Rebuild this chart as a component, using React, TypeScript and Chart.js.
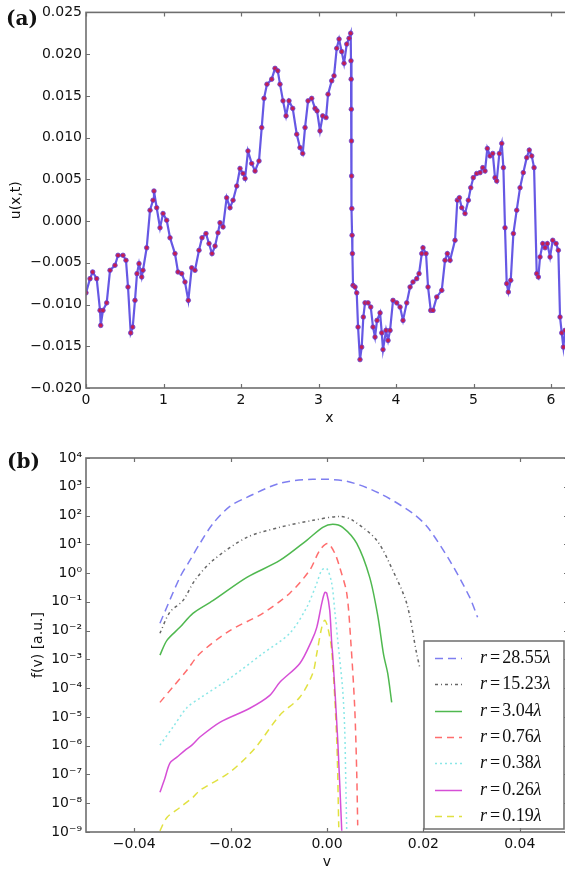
import React, { useEffect, useRef } from 'react';
import { Chart, registerables } from 'chart.js';

Chart.register(...registerables);

// ---------- Panel (a) data ----------
const xValues = [
  0.000, 0.052, 0.086, 0.138, 0.181, 0.190, 0.219, 0.267, 0.310, 0.374,
  0.413, 0.477, 0.516, 0.542, 0.577, 0.603, 0.632, 0.658, 0.684, 0.719,
  0.735, 0.783, 0.826, 0.865, 0.877, 0.912, 0.955, 0.994, 1.041, 1.084,
  1.148, 1.187, 1.235, 1.277, 1.320, 1.364, 1.406, 1.458, 1.497, 1.548,
  1.587, 1.626, 1.665, 1.703, 1.729, 1.768, 1.815, 1.858, 1.897, 1.945,
  1.987, 2.026, 2.052, 2.090, 2.138, 2.181, 2.232, 2.267, 2.297, 2.335,
  2.396, 2.439, 2.474, 2.503, 2.542, 2.581, 2.619, 2.667, 2.719, 2.761,
  2.796, 2.826, 2.865, 2.912, 2.955, 2.981, 3.019, 3.054, 3.097, 3.123,
  3.170, 3.200, 3.235, 3.265, 3.299, 3.329, 3.364, 3.394, 3.415, 3.419,
  3.421, 3.423, 3.425, 3.427, 3.430, 3.433, 3.437, 3.445, 3.471, 3.493,
  3.510, 3.535, 3.557, 3.578, 3.600, 3.639, 3.674, 3.703, 3.729, 3.755,
  3.794, 3.816, 3.832, 3.871, 3.897, 3.923, 3.961, 4.009, 4.052, 4.090,
  4.138, 4.181, 4.219, 4.267, 4.297, 4.332, 4.348, 4.387, 4.413, 4.448,
  4.477, 4.525, 4.590, 4.632, 4.662, 4.697, 4.761, 4.791, 4.817, 4.848,
  4.890, 4.933, 4.964, 4.997, 5.041, 5.084, 5.119, 5.148, 5.178, 5.213,
  5.248, 5.277, 5.299, 5.333, 5.364, 5.385, 5.406, 5.428, 5.449, 5.480,
  5.514, 5.557, 5.600, 5.642, 5.686, 5.719, 5.751, 5.781, 5.815, 5.836,
  5.858, 5.893, 5.923, 5.952, 5.987, 6.022, 6.065, 6.094, 6.116, 6.138,
  6.159, 6.181, 6.245,
];
const uValues = [
  -0.0086, -0.0069, -0.0061, -0.0069, -0.0107, -0.0125, -0.0107, -0.0098, -0.0059, -0.0053,
  -0.0041, -0.0041, -0.0047, -0.0079, -0.0134, -0.0127, -0.0095, -0.0063, -0.0051, -0.0067,
  -0.0059, -0.0032, 0.0013, 0.0025, 0.0036, 0.0016, -0.0008, 0.0009, 0.0001, -0.0020,
  -0.0039, -0.0061, -0.0063, -0.0073, -0.0095, -0.0056, -0.0059, -0.0035, -0.0020, -0.0015,
  -0.0027, -0.0039, -0.0030, -0.0014, -0.0002, -0.0007, 0.0028, 0.0016, 0.0025, 0.0042,
  0.0063, 0.0057, 0.0051, 0.0084, 0.0069, 0.0060, 0.0072, 0.0112, 0.0147, 0.0164,
  0.0170, 0.0183, 0.0180, 0.0164, 0.0144, 0.0126, 0.0144, 0.0135, 0.0104, 0.0088,
  0.0081, 0.0112, 0.0144, 0.0147, 0.0135, 0.0132, 0.0108, 0.0126, 0.0124, 0.0152,
  0.0168, 0.0174, 0.0207, 0.0218, 0.0203, 0.0189, 0.0212, 0.0219, 0.0225, 0.0192,
  0.0170, 0.0134, 0.0096, 0.0054, 0.0015, -0.0017, -0.0039, -0.0077, -0.0079, -0.0086,
  -0.0127, -0.0166, -0.0151, -0.0115, -0.0098, -0.0098, -0.0103, -0.0127, -0.0139, -0.0119,
  -0.0110, -0.0134, -0.0154, -0.0131, -0.0143, -0.0131, -0.0095, -0.0098, -0.0103, -0.0119,
  -0.0098, -0.0079, -0.0073, -0.0069, -0.0063, -0.0039, -0.0032, -0.0039, -0.0079, -0.0107,
  -0.0107, -0.0091, -0.0083, -0.0047, -0.0039, -0.0047, -0.0023, 0.0025, 0.0028, 0.0016,
  0.0009, 0.0025, 0.0040, 0.0052, 0.0057, 0.0058, 0.0064, 0.0060, 0.0087, 0.0078,
  0.0081, 0.0052, 0.0048, 0.0081, 0.0093, 0.0064, -0.0008, -0.0075, -0.0085, -0.0071,
  -0.0015, 0.0013, 0.0040, 0.0058, 0.0076, 0.0085, 0.0078, 0.0064, -0.0063, -0.0067,
  -0.0043, -0.0027, -0.0032, -0.0027, -0.0043, -0.0023, -0.0027, -0.0035, -0.0115, -0.0134,
  -0.0151, -0.0131, -0.0125,
];
const xTicksA = [0, 1, 2, 3, 4, 5, 6];
const xTickLabelsA = ['0', '1', '2', '3', '4', '5', '6'];
const uTicks = [-0.02, -0.015, -0.01, -0.005, 0, 0.005, 0.01, 0.015, 0.02, 0.025];
const uTickLabels = ['−0.020', '−0.015', '−0.010', '−0.005', '0.000', '0.005', '0.010', '0.015', '0.020', '0.025'];

// ---------- Panel (b) data ----------
const v_r2855 = [-0.03466, -0.03052, -0.02845, -0.02637, -0.02368, -0.02016, -0.01663, -0.00979, -0.00295, 0.00409, 0.01093, 0.01777, 0.02088, 0.02544, 0.02959, 0.03124];
const f_r2855 = [0.018, 0.71, 2.75, 10.7, 52, 209, 427, 1320, 1820, 1550, 589, 120, 39, 2.75, 0.145, 0.029];

const v_r1523 = [-0.03466, -0.03259, -0.02990, -0.02741, -0.02368, -0.01663, -0.00979, -0.00295, 0.00264, 0.00534, 0.01031, 0.01363, 0.01653, 0.01860, 0.01922];
const f_r1523 = [0.0081, 0.044, 0.11, 0.56, 2.75, 17.4, 39, 68, 93, 68, 13.8, 1.26, 0.089, 0.0016, 0.00054];

const v_r304 = [-0.03466, -0.03321, -0.03052, -0.02782, -0.02368, -0.01663, -0.00979, -0.00420, -0.00088, 0.00119, 0.00326, 0.00617, 0.00886, 0.01052, 0.01176, 0.01259, 0.01342];
const f_r304 = [0.0014, 0.0046, 0.013, 0.040, 0.11, 0.71, 2.75, 13.8, 39, 50, 39, 10.7, 0.71, 0.034, 0.0014, 0.00033, 3.2e-5];

const v_r076 = [-0.03466, -0.03197, -0.02907, -0.02637, -0.02016, -0.01332, -0.00772, -0.00358, -0.00150, 0.00016, 0.00161, 0.00264, 0.00409, 0.00492, 0.00575, 0.00617, 0.00637];
const f_r076 = [3.2e-5, 1.1e-4, 4.2e-4, 1.6e-3, 0.010, 0.040, 0.20, 1.26, 6.2, 10.7, 4.9, 1.58, 0.20, 0.0046, 2.1e-5, 1.1e-7, 1.7e-9];

const v_r038 = [-0.03466, -0.03197, -0.02907, -0.02637, -0.02016, -0.01332, -0.00772, -0.00420, -0.00212, -0.00109, -0.00005, 0.00098, 0.00161, 0.00223, 0.00326, 0.00368, 0.00389, 0.00409];
const f_r038 = [1.05e-6, 4.4e-6, 2.1e-5, 4.5e-5, 2.2e-4, 1.6e-3, 8.1e-3, 0.065, 0.44, 1.26, 1.45, 0.44, 0.050, 0.0046, 8.5e-5, 3.5e-6, 6.3e-8, 1.15e-9];

const v_r026 = [-0.03466, -0.03363, -0.03259, -0.03114, -0.02948, -0.02803, -0.02637, -0.02223, -0.01601, -0.01187, -0.00979, -0.00565, -0.00316, -0.00212, -0.00109, -0.00047, -0.00005, 0.00057, 0.00098, 0.00119, 0.00223, 0.00306];
const f_r026 = [2.4e-8, 7.4e-8, 2.5e-7, 4.0e-7, 6.9e-7, 1.05e-6, 2.0e-6, 6.5e-6, 2.0e-5, 5.6e-5, 1.6e-4, 7.2e-4, 4.6e-3, 0.013, 0.089, 0.21, 0.20, 0.050, 0.0036, 0.0014, 1.55e-6, 1.1e-9];

const v_r019 = [-0.03466, -0.03321, -0.03052, -0.02782, -0.02637, -0.02016, -0.01497, -0.00979, -0.00565, -0.00295, -0.00212, -0.00109, -0.00047, 0.00016, 0.00098, 0.00202, 0.00244];
const f_r019 = [1.1e-9, 3.2e-9, 7.1e-9, 1.6e-8, 2.8e-8, 1.2e-7, 8.1e-7, 1.15e-5, 4.8e-5, 3.3e-4, 1.6e-3, 0.013, 0.023, 0.013, 2.0e-3, 1.55e-6, 1.45e-9];

const legendRadii = ['28.55', '15.23', '3.04', '0.76', '0.38', '0.26', '0.19'];
const vTicks = [-0.04, -0.02, 0, 0.02, 0.04];
const vTickLabels = ['−0.04', '−0.02', '0.00', '0.02', '0.04'];
const fExponents = [-9, -8, -7, -6, -5, -4, -3, -2, -1, 0, 1, 2, 3, 4];
const fTickLabels = ['10⁻⁹', '10⁻⁸', '10⁻⁷', '10⁻⁶', '10⁻⁵', '10⁻⁴', '10⁻³', '10⁻²', '10⁻¹', '10⁰', '10¹', '10²', '10³', '10⁴'];

// ---------- styles ----------
const FRAME = '#6e6e6e';
const seriesStyles = [
  { color: 'rgba(40,40,230,0.6)', dash: [8, 5], width: 1.5 },
  { color: 'rgba(0,0,0,0.6)', dash: [3, 3, 1, 3], width: 1.5 },
  { color: 'rgba(20,160,20,0.75)', dash: [], width: 1.5 },
  { color: 'rgba(255,30,30,0.65)', dash: [7, 5], width: 1.5 },
  { color: 'rgba(60,215,215,0.6)', dash: [2, 3], width: 1.5 },
  { color: 'rgba(200,20,200,0.75)', dash: [], width: 1.5 },
  { color: 'rgba(215,215,0,0.75)', dash: [7, 5], width: 1.5 },
];
const seriesB = [
  [v_r2855, f_r2855],
  [v_r1523, f_r1523],
  [v_r304, f_r304],
  [v_r076, f_r076],
  [v_r038, f_r038],
  [v_r026, f_r026],
  [v_r019, f_r019],
];

const framePlugin = {
  id: 'frameTicks',
  afterDraw(chart: any) {
    const { ctx, chartArea: a, scales } = chart;
    const L = 4;
    ctx.save();
    ctx.strokeStyle = FRAME;
    ctx.lineWidth = 1.2;
    ctx.beginPath();
    scales.x.ticks.forEach((t: any) => {
      const px = Math.round(scales.x.getPixelForValue(t.value)) + 0.5;
      ctx.moveTo(px, a.bottom); ctx.lineTo(px, a.bottom - L);
      ctx.moveTo(px, a.top); ctx.lineTo(px, a.top + L);
    });
    scales.y.ticks.forEach((t: any) => {
      const py = Math.round(scales.y.getPixelForValue(t.value)) + 0.5;
      ctx.moveTo(a.left, py); ctx.lineTo(a.left + L, py);
      ctx.moveTo(a.right, py); ctx.lineTo(a.right - L, py);
    });
    ctx.stroke();
    ctx.lineWidth = 1.6;
    ctx.strokeRect(a.left, a.top, a.right - a.left, a.bottom - a.top);
    ctx.restore();
  },
};

const legendPlugin = {
  id: 'boxLegend',
  afterDatasetsDraw(chart: any) {
    const { ctx, chartArea: a } = chart;
    const w = 140, h = 188;
    const x0 = a.right - 4 - w;
    const y0 = a.bottom - 3 - h;
    ctx.save();
    ctx.fillStyle = '#ffffff';
    ctx.fillRect(x0, y0, w, h);
    ctx.strokeStyle = FRAME;
    ctx.lineWidth = 1.5;
    ctx.strokeRect(x0, y0, w, h);
    chart.data.datasets.forEach((ds: any, i: number) => {
      const cy = Math.round(y0 + 17 + i * 26.3) + 0.5;
      ctx.strokeStyle = ds.borderColor;
      ctx.lineWidth = ds.borderWidth;
      ctx.setLineDash(ds.borderDash || []);
      ctx.beginPath();
      ctx.moveTo(x0 + 11, cy);
      ctx.lineTo(x0 + 38, cy);
      ctx.stroke();
      ctx.setLineDash([]);
      let tx = x0 + 56;
      ctx.fillStyle = '#111';
      ctx.textBaseline = 'middle';
      ctx.font = 'italic 18px "Liberation Serif"';
      ctx.fillText('r', tx, cy);
      tx += ctx.measureText('r').width + 3;
      ctx.font = '18px "Liberation Serif"';
      ctx.fillText('=', tx, cy);
      tx += ctx.measureText('=').width + 2;
      ctx.fillText(legendRadii[i], tx, cy);
      tx += ctx.measureText(legendRadii[i]).width;
      ctx.font = 'italic 18px "Liberation Serif"';
      ctx.fillText('λ', tx, cy);
    });
    ctx.restore();
  },
};

const tickFont = { family: 'DejaVu Sans', size: 14 };
const titleFont = { family: 'DejaVu Sans', size: 14 };

export default function App() {
  const refA = useRef<HTMLCanvasElement>(null);
  const refB = useRef<HTMLCanvasElement>(null);

  useEffect(() => {
    Chart.defaults.color = '#111';
    const chartA = new Chart(refA.current as HTMLCanvasElement, {
      type: 'line',
      data: {
        datasets: [
          {
            data: xValues.map((x, i) => ({ x, y: uValues[i] })),
            borderColor: 'rgba(85,70,225,0.9)',
            borderWidth: 2.2,
            pointRadius: 2.3,
            pointBackgroundColor: 'rgba(200,25,75,0.95)',
            pointBorderColor: 'rgba(95,70,220,0.85)',
            pointBorderWidth: 0.9,
            tension: 0,
          },
        ],
      },
      options: {
        animation: false,
        responsive: false,
        maintainAspectRatio: false,
        layout: { padding: { left: 0, top: 11, right: 47, bottom: 0 } },
        plugins: { legend: { display: false }, tooltip: { enabled: false } },
        scales: {
          x: {
            type: 'linear',
            min: 0,
            max: 6.2832,
            grid: { display: false, drawTicks: false },
            border: { display: false },
            afterBuildTicks: (s: any) => { s.ticks = xTicksA.map((v) => ({ value: v })); },
            afterFit: (s: any) => { s.height = 42; },
            ticks: { font: tickFont, padding: 4, autoSkip: false, maxRotation: 0, callback: (_v: any, i: number) => xTickLabelsA[i] },
            title: { display: true, text: 'x', font: titleFont, padding: { top: 0, bottom: 3 } },
          },
          y: {
            type: 'linear',
            min: -0.02,
            max: 0.025,
            grid: { display: false, drawTicks: false },
            border: { display: false },
            afterBuildTicks: (s: any) => { s.ticks = uTicks.map((v) => ({ value: v })); },
            afterFit: (s: any) => { s.width = 86; },
            ticks: { font: tickFont, padding: 4, autoSkip: false, callback: (_v: any, i: number) => uTickLabels[i] },
            title: { display: true, text: 'u(x,t)', font: titleFont, padding: { top: 8, bottom: 0 } },
          },
        },
      },
      plugins: [framePlugin],
    } as any);

    const chartB = new Chart(refB.current as HTMLCanvasElement, {
      type: 'line',
      data: {
        datasets: seriesB.map(([vs, fs], i) => ({
          label: 'r=' + legendRadii[i] + 'λ',
          data: vs.map((v, j) => ({ x: v, y: fs[j] })),
          borderColor: seriesStyles[i].color,
          borderWidth: seriesStyles[i].width,
          borderDash: seriesStyles[i].dash,
          pointRadius: 0,
          tension: 0.3,
          fill: false,
        })),
      },
      options: {
        animation: false,
        responsive: false,
        maintainAspectRatio: false,
        layout: { padding: { left: 0, top: 28, right: 52, bottom: 0 } },
        plugins: { legend: { display: false }, tooltip: { enabled: false } },
        scales: {
          x: {
            type: 'linear',
            min: -0.05,
            max: 0.05,
            grid: { display: false, drawTicks: false },
            border: { display: false },
            afterBuildTicks: (s: any) => { s.ticks = vTicks.map((v) => ({ value: v })); },
            afterFit: (s: any) => { s.height = 39; },
            ticks: { font: tickFont, padding: 4, autoSkip: false, maxRotation: 0, callback: (_v: any, i: number) => vTickLabels[i] },
            title: { display: true, text: 'v', font: titleFont, padding: { top: 0, bottom: 0 } },
          },
          y: {
            type: 'logarithmic',
            min: 1e-9,
            max: 1e4,
            grid: { display: false, drawTicks: false },
            border: { display: false },
            afterBuildTicks: (s: any) => { s.ticks = fExponents.map((e) => ({ value: Math.pow(10, e) })); },
            afterFit: (s: any) => { s.width = 86; },
            ticks: { font: tickFont, padding: 4, autoSkip: false, callback: (_v: any, i: number) => fTickLabels[i] },
            title: { display: true, text: 'f(v) [a.u.]', font: titleFont, padding: { top: 30, bottom: 0 } },
          },
        },
      },
      plugins: [legendPlugin, framePlugin],
    } as any);

    return () => {
      chartA.destroy();
      chartB.destroy();
    };
  }, []);

  const labelStyle: React.CSSProperties = {
    position: 'absolute',
    fontFamily: '"DejaVu Serif", serif',
    fontWeight: 'bold',
    fontSize: 20,
    lineHeight: '20px',
    color: '#111',
  };

  return (
    <div style={{ position: 'absolute', left: 0, top: 0, width: 565, height: 871, overflow: 'hidden', background: '#fff' }}>
      <canvas ref={refA} width={620} height={430} style={{ position: 'absolute', left: 0, top: 0, width: 620, height: 430 }} />
      <canvas ref={refB} width={620} height={441} style={{ position: 'absolute', left: 0, top: 430, width: 620, height: 441 }} />
      <div style={{ ...labelStyle, left: 6, top: 8 }}>(a)</div>
      <div style={{ ...labelStyle, left: 7, top: 451 }}>(b)</div>
    </div>
  );
}
